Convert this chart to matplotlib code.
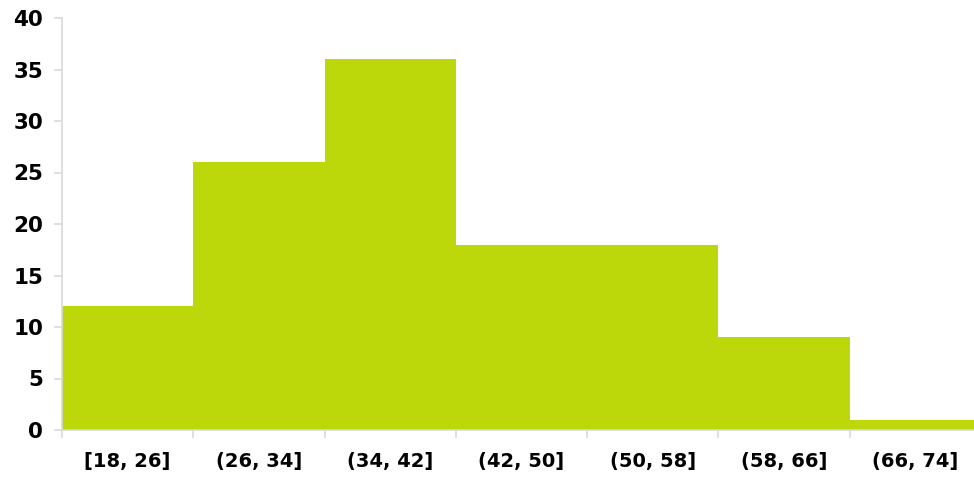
import matplotlib
matplotlib.use("Agg")
import matplotlib.pyplot as plt
import numpy as np

bin_edges = [18, 26, 34, 42, 50, 58, 66, 74]
counts = [12, 26, 36, 18, 18, 9, 1]
labels = ["[18, 26]", "(26, 34]", "(34, 42]", "(42, 50]", "(50, 58]", "(58, 66]", "(66, 74]"]
y_ticks = [0, 5, 10, 15, 20, 25, 30, 35, 40]

bar_color = "#bcd80a"
spine_color = "#d9d9d9"
text_color = "#000000"

fig = plt.figure(figsize=(9.74, 4.78), dpi=100)
left = 62 / 974
right = 981 / 974
bottom = 1 - 430 / 478
top = 1 - 18 / 478
ax = fig.add_axes([left, bottom, right - left, top - bottom])

edges = np.array(bin_edges, dtype=float)
widths = np.diff(edges)
ax.bar(edges[:-1], counts, width=widths, align="edge", color=bar_color, linewidth=0)

ax.set_xlim(edges[0], edges[-1])
ax.set_ylim(0, 40)
ax.set_yticks(y_ticks)
ax.set_yticklabels([str(v) for v in y_ticks])

centers = (edges[:-1] + edges[1:]) / 2
ax.set_xticks(centers)
ax.set_xticklabels(labels)
ax.set_xticks(edges[:-1], minor=True)

for s in ["top", "right"]:
    ax.spines[s].set_visible(False)
for s in ["left", "bottom"]:
    ax.spines[s].set_color(spine_color)
    ax.spines[s].set_linewidth(1.2)

ax.tick_params(axis="y", length=5.5, width=1.2, color=spine_color, pad=8,
               labelsize=15.5, labelcolor=text_color)
ax.tick_params(axis="x", which="major", length=0, pad=16,
               labelsize=14, labelcolor=text_color)
ax.tick_params(axis="x", which="minor", length=5.5, width=1.2, color=spine_color)
for lab in ax.get_xticklabels() + ax.get_yticklabels():
    lab.set_fontweight("bold")
    lab.set_fontfamily("DejaVu Sans")

fig.savefig("out.png", dpi=100)
